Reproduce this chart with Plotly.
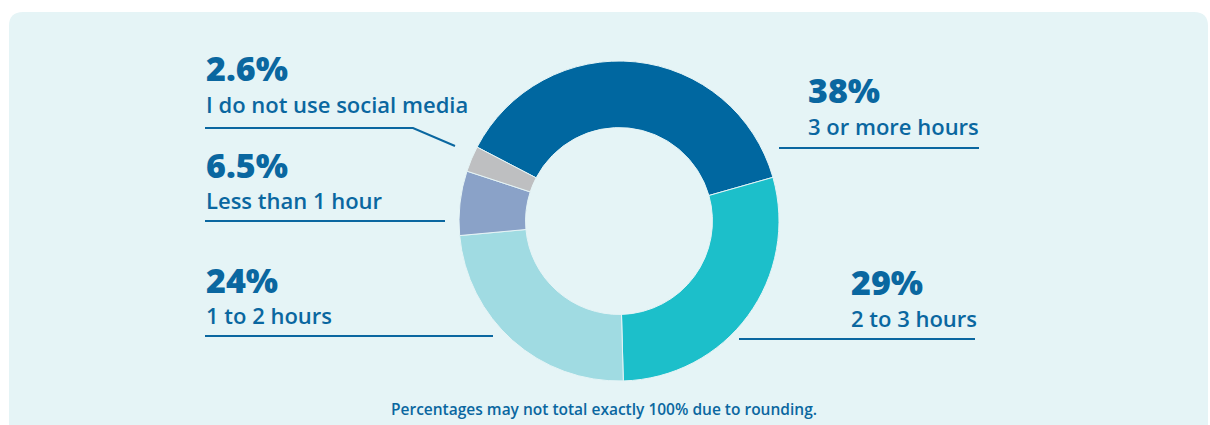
import plotly.graph_objects as go

W, H = 1210, 425

# ---- data ----
categories = ["3 or more hours", "2 to 3 hours", "1 to 2 hours",
              "Less than 1 hour", "I do not use social media"]
values = [38, 29, 24, 6.5, 2.6]
value_labels = ["38%", "29%", "24%", "6.5%", "2.6%"]
footnote = "Percentages may not total exactly 100% due to rounding."

# ---- styles ----
slice_colors = ["#0067A0", "#1CBFCA", "#A0DBE2", "#8AA2C8", "#BEBFC1"]
TXT = "#0A67A0"
BG = "#E5F4F6"
FONT = "Open Sans"


def px(x):
    return x / W


def py(y):
    return 1 - y / H


cx, cy, R = 619, 221, 160

fig = go.Figure(go.Pie(
    labels=categories, values=values, sort=False, direction="clockwise",
    rotation=-62.5, hole=0.584, textinfo="none", hoverinfo="label+value",
    marker=dict(colors=slice_colors, line=dict(color=BG, width=1)),
    domain=dict(x=[px(cx - R), px(cx + R)], y=[py(cy + R), py(cy - R)]),
    showlegend=False,
))

# label layout: (text x, value cap-mid y, label cap-mid y, line path)
layout_pos = {
    "3 or more hours": (807, 90.5, 126.5, [(779, 148), (979, 148)]),
    "2 to 3 hours": (850, 282, 317.5, [(739, 339), (975, 339)]),
    "1 to 2 hours": (205, 279.5, 314.5, [(205, 336), (493, 336)]),
    "Less than 1 hour": (205, 165, 200.5, [(205, 221), (445, 221)]),
    "I do not use social media": (205, 68.5, 103.5, [(205, 128), (413, 128), (455, 146)]),
}

annotations = []
shapes = []

# background panel (rounded)
x0, y0, x1, y1, r = 9, 12, 1208, 445, 14
path = (f"M {px(x0 + r)} {py(y0)} L {px(x1 - r)} {py(y0)} "
        f"Q {px(x1)} {py(y0)} {px(x1)} {py(y0 + r)} L {px(x1)} {py(y1)} "
        f"L {px(x0)} {py(y1)} L {px(x0)} {py(y0 + r)} "
        f"Q {px(x0)} {py(y0)} {px(x0 + r)} {py(y0)} Z")
shapes.append(dict(type="path", path=path, xref="paper", yref="paper",
                   fillcolor=BG, line=dict(width=0), layer="below"))

for cat, val in zip(categories, value_labels):
    lx, vy, ly, pts = layout_pos[cat]
    annotations.append(dict(text=val, x=px(lx), y=py(vy),
                            xref="paper", yref="paper", xanchor="left",
                            yanchor="middle", showarrow=False, borderpad=0,
                            font=dict(family=FONT, size=34, color=TXT, weight=800)))
    annotations.append(dict(text=cat, x=px(lx), y=py(ly),
                            xref="paper", yref="paper", xanchor="left",
                            yanchor="middle", showarrow=False, borderpad=0,
                            font=dict(family=FONT, size=22, color=TXT, weight=600)))
    d = "M " + " L ".join(f"{px(a)} {py(b)}" for a, b in pts)
    shapes.append(dict(type="path", path=d, xref="paper", yref="paper",
                       line=dict(color=TXT, width=2)))

annotations.append(dict(text=footnote, x=px(604), y=py(408.5),
                        xref="paper", yref="paper", xanchor="center",
                        yanchor="middle", showarrow=False, borderpad=0,
                        font=dict(family=FONT, size=15.5, color=TXT, weight=600)))

fig.update_layout(
    width=W, height=H, margin=dict(l=0, r=0, t=0, b=0),
    paper_bgcolor="white", plot_bgcolor="white",
    shapes=shapes, annotations=annotations,
)

fig.write_html("out.html")
